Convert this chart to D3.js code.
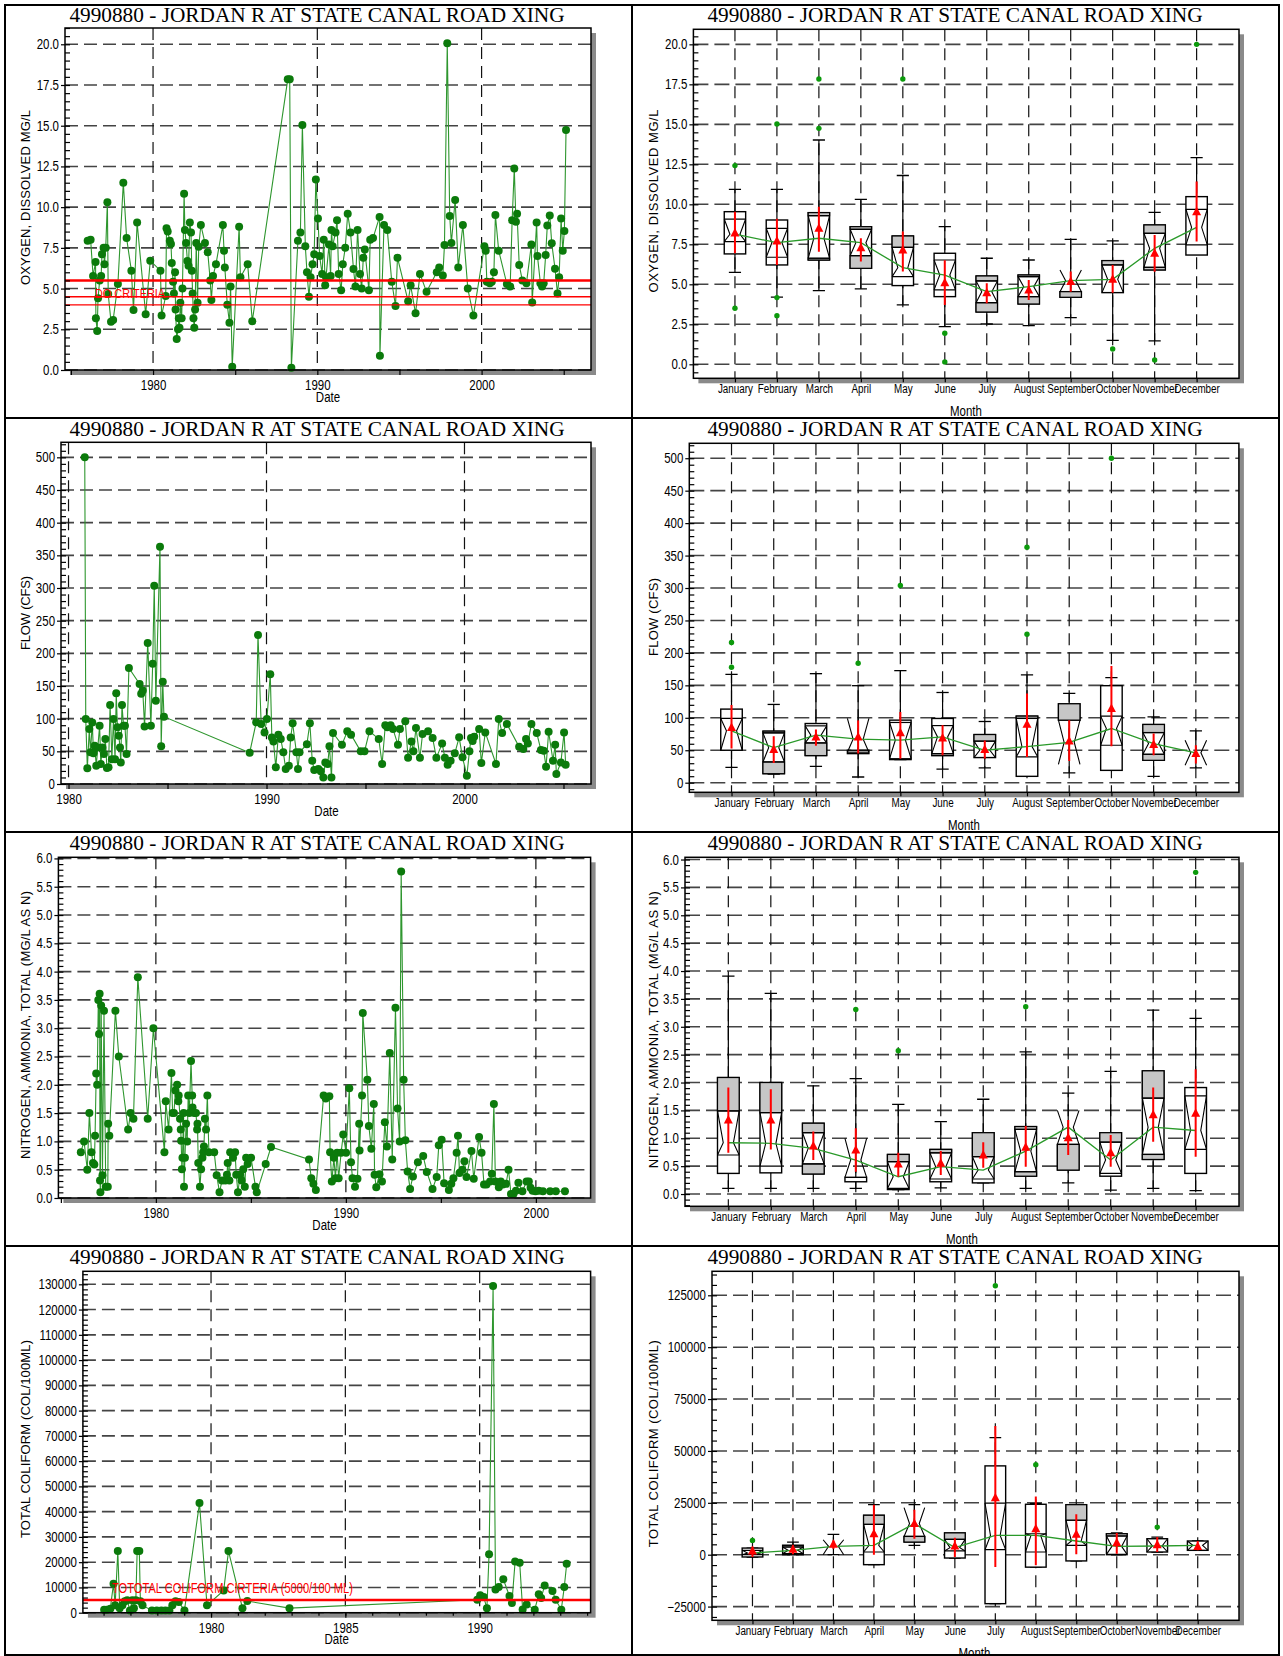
<!DOCTYPE html>
<html><head><meta charset="utf-8">
<script src="https://cdn.jsdelivr.net/npm/d3@7/dist/d3.min.js"></script>
<style>html,body{margin:0;padding:0;background:#fff;}svg{display:block;}</style>
</head><body>
<script>
// ================= DATA =================
const chartTitle = "4990880 - JORDAN R AT STATE CANAL ROAD XING";
const months = ["January","February","March","April","May","June","July","August","September","October","November","December"];

// --- Time series: [decimal year, value] ---
const doSeries = [
[1976.02,7.94],[1976.20,8.0],[1976.35,5.77],[1976.50,6.63],[1976.52,3.17],[1976.60,2.4],[1976.65,4.4],[1976.75,5.5],[1976.84,5.77],[1976.89,7.1],
[1976.99,7.5],[1977.04,6.5],[1977.12,7.5],[1977.22,10.3],[1977.27,4.67],[1977.44,2.97],[1977.57,3.07],[1977.86,5.28],[1978.19,11.5],[1978.39,8.1],
[1978.68,6.1],[1978.81,3.68],[1979.03,9.05],[1979.55,3.42],[1979.83,6.71],[1980.45,6.1],[1980.52,3.34],[1980.77,4.54],[1980.82,8.7],[1980.89,8.5],
[1981.02,7.94],[1981.09,7.74],[1981.14,6.57],[1981.22,5.42],[1981.27,4.7],[1981.34,6.0],[1981.37,3.72],[1981.44,1.9],[1981.52,2.5],[1981.57,3.17],
[1981.61,2.6],[1981.66,4.13],[1981.74,3.17],[1981.79,5.0],[1981.89,10.83],[1981.94,8.6],[1982.01,7.8],[1982.09,6.7],[1982.16,6.4],[1982.24,9.05],
[1982.31,8.45],[1982.36,6.1],[1982.41,4.7],[1982.46,3.17],[1982.51,2.6],[1982.56,3.72],[1982.63,7.8],[1982.71,4.13],[1982.78,7.57],[1982.91,8.9],
[1983.16,7.8],[1983.33,7.23],[1983.48,5.5],[1983.55,4.3],[1983.65,5.77],[1983.83,6.5],[1984.25,8.9],[1984.32,7.33],[1984.37,6.3],[1984.52,4.0],
[1984.65,2.9],[1984.72,5.12],[1984.82,0.2],[1985.24,8.8],[1985.32,5.7],[1985.76,6.5],[1986.04,3.0],[1988.20,17.85],[1988.32,17.85],[1988.42,0.14],
[1988.82,7.94],[1988.97,8.45],[1989.09,15.05],[1989.27,7.6],[1989.37,6.0],[1989.49,4.5],[1989.59,5.7],[1989.71,6.5],[1989.81,7.1],[1989.91,11.7],
[1990.04,9.3],[1990.14,7.0],[1990.29,5.9],[1990.39,8.0],[1990.48,5.2],[1990.53,5.7],[1990.71,7.7],[1990.81,5.77],[1990.86,8.6],[1990.93,7.6],
[1991.11,8.45],[1991.20,9.2],[1991.30,5.9],[1991.45,4.9],[1991.55,6.5],[1991.70,7.5],[1991.85,9.6],[1992.02,8.45],[1992.20,6.2],[1992.32,5.12],
[1992.45,8.6],[1992.60,5.9],[1992.70,5.0],[1992.80,6.9],[1992.89,7.4],[1993.14,4.9],[1993.22,8.0],[1993.39,8.1],[1993.79,9.4],[1993.81,0.88],
[1994.06,8.9],[1994.26,8.6],[1994.53,5.42],[1994.76,3.93],[1994.88,6.9],[1995.53,4.22],[1995.68,5.2],[1995.98,3.48],[1996.25,5.9],[1996.65,4.8],
[1997.27,6.0],[1997.42,6.3],[1997.64,5.8],[1997.74,7.68],[1997.91,20.06],[1998.06,9.46],[1998.16,7.8],[1998.39,10.44],[1998.58,6.3],[1998.86,8.9],
[1999.16,5.0],[1999.50,3.34],[2000.17,7.6],[2000.25,7.33],[2000.32,5.42],[2000.50,5.32],[2000.62,5.42],[2000.75,6.0],[2000.84,9.52],[2001.04,7.33],
[2001.54,5.28],[2001.74,5.12],[2001.86,9.2],[2001.99,12.38],[2002.09,9.1],[2002.16,9.6],[2002.29,6.45],[2002.48,5.5],[2002.73,5.32],[2003.03,7.7],
[2003.08,4.15],[2003.35,9.06],[2003.40,7.0],[2003.58,5.32],[2003.68,5.12],[2003.78,5.32],[2003.90,7.06],[2004.00,8.88],[2004.15,9.48],[2004.27,7.78],
[2004.47,6.22],[2004.62,4.7],[2004.72,5.7],[2004.84,9.3],[2004.94,7.33],[2005.04,8.54],[2005.14,14.74]
];

const flowSeries = [
[1980.82,500],[1980.87,99.5],[1980.95,24],[1981.05,84],[1981.11,48.5],[1981.20,94],[1981.26,47],[1981.32,58.7],[1981.40,28],[1981.48,56],
[1981.57,89],[1981.63,30.6],[1981.71,56],[1981.79,46],[1981.86,69],[1981.94,24.5],[1982.02,25.5],[1982.10,121],[1982.19,38],[1982.27,99.5],
[1982.35,38],[1982.41,139],[1982.47,86.7],[1982.54,74],[1982.60,56],[1982.64,33],[1982.70,121],[1982.78,89],[1982.85,89],[1982.93,46],
[1983.05,177.5],[1983.59,153],[1983.67,138],[1983.75,143],[1983.84,88],[1984.00,216],[1984.16,89],[1984.25,184],[1984.33,303.6],[1984.41,127.5],
[1984.62,363],[1984.68,57.6],[1984.76,156.6],[1984.82,103],[1989.15,48],[1989.48,94.4],[1989.57,228],[1989.73,92],[1989.90,79],[1990.02,99.5],
[1990.19,168],[1990.27,71],[1990.35,65],[1990.47,25.5],[1990.60,75.5],[1990.72,69],[1990.85,48.5],[1990.97,23],[1991.13,28],[1991.22,71],
[1991.32,93],[1991.51,48.5],[1991.59,23],[1991.67,48.5],[1992.04,61],[1992.19,93],[1992.31,35.7],[1992.41,21.4],[1992.62,23],[1992.74,19.4],
[1992.87,10],[1992.97,33],[1993.09,30.6],[1993.18,57.6],[1993.28,10],[1993.36,78],[1993.81,60],[1994.08,80.6],[1994.27,75.5],[1994.76,50],
[1994.95,50],[1995.20,80.6],[1995.67,69],[1995.84,30.6],[1996.00,90],[1996.10,86.7],[1996.27,90],[1996.39,84],[1996.64,60],[1996.74,84],
[1997.01,96],[1997.15,40],[1997.32,65],[1997.42,50],[1997.55,85.7],[1997.75,40],[1997.88,76.5],[1998.16,80.6],[1998.39,70.4],[1998.58,40],
[1998.87,62],[1999.01,40],[1999.15,29.6],[1999.30,35.7],[1999.51,47],[1999.73,71.4],[1999.90,40.8],[2000.12,12.8],[2000.25,50],[2000.33,70.4],
[2000.41,66],[2000.49,72.4],[2000.74,84],[2000.85,32],[2001.05,79],[2001.59,30.6],[2001.73,99.5],[2001.90,78],[2002.14,92],[2002.76,57],
[2002.97,53.6],[2003.11,69],[2003.20,62],[2003.38,92],[2003.65,78],[2003.86,52],[2004.00,51],[2004.12,26.5],[2004.25,80],[2004.47,35.7],
[2004.58,60],[2004.64,15.3],[2004.87,33],[2005.03,79],[2005.11,29.6]
];

const nh3Series = [
[1976.05,0.81],[1976.22,1.0],[1976.39,0.5],[1976.50,1.5],[1976.61,0.81],[1976.69,0.62],[1976.76,0.59],[1976.80,1.1],[1976.86,2.2],[1976.91,2.0],
[1976.97,3.5],[1977.01,2.9],[1977.04,3.61],[1977.06,0.31],[1977.08,0.1],[1977.12,3.4],[1977.19,0.4],[1977.27,3.31],[1977.36,0.2],[1977.47,0.2],
[1977.49,1.31],[1977.55,1.1],[1977.87,3.31],[1978.05,2.5],[1978.54,1.21],[1978.67,1.5],[1978.82,1.4],[1979.05,3.9],[1979.57,1.4],[1979.87,3.0],
[1980.45,0.81],[1980.52,1.71],[1980.67,1.21],[1980.82,2.21],[1980.88,1.5],[1980.95,1.5],[1981.03,1.9],[1981.12,2.0],[1981.18,1.71],[1981.20,1.81],
[1981.27,1.4],[1981.31,1.21],[1981.33,1.01],[1981.37,0.51],[1981.40,0.71],[1981.46,1.5],[1981.48,0.2],[1981.53,0.71],[1981.59,1.31],[1981.65,1.0],
[1981.70,1.81],[1981.76,1.5],[1981.85,2.42],[1981.91,1.81],[1981.93,1.6],[1982.02,1.5],[1982.11,1.5],[1982.17,1.21],[1982.19,1.31],[1982.23,0.62],
[1982.32,0.2],[1982.38,0.51],[1982.45,0.71],[1982.49,0.81],[1982.53,0.91],[1982.58,1.4],[1982.64,1.21],[1982.71,1.81],[1982.79,0.81],[1983.07,0.81],
[1983.20,0.4],[1983.35,0.1],[1983.48,0.31],[1983.65,0.31],[1983.74,0.41],[1983.78,0.62],[1983.87,0.31],[1983.91,0.81],[1984.06,0.71],[1984.17,0.81],
[1984.23,0.41],[1984.32,0.1],[1984.43,0.41],[1984.51,0.31],[1984.60,0.51],[1984.68,0.2],[1984.75,0.71],[1984.83,0.6],[1985.01,0.71],[1985.24,0.2],
[1985.31,0.1],[1985.78,0.6],[1986.06,0.9],[1988.06,0.68],[1988.18,0.35],[1988.29,0.25],[1988.42,0.14],[1988.83,1.81],[1988.94,1.76],[1989.13,1.8],
[1989.17,0.81],[1989.26,0.29],[1989.37,0.71],[1989.45,0.35],[1989.54,0.8],[1989.62,0.35],[1989.75,0.8],[1989.86,1.12],[1990.01,0.8],[1990.18,1.94],
[1990.27,0.63],[1990.35,0.35],[1990.48,0.2],[1990.61,0.34],[1990.70,1.31],[1990.72,0.84],[1990.85,1.81],[1990.89,3.27],[1991.13,2.09],[1991.21,1.27],
[1991.34,0.87],[1991.47,1.66],[1991.51,0.41],[1991.60,0.19],[1991.77,0.42],[1991.90,0.29],[1992.05,1.34],[1992.16,0.91],[1992.31,2.56],[1992.44,0.68],
[1992.61,3.36],[1992.72,1.58],[1992.83,1.0],[1992.91,5.77],[1993.04,2.09],[1993.13,1.02],[1993.25,0.47],[1993.38,0.16],[1993.53,0.38],[1993.79,0.63],
[1994.07,0.74],[1994.26,0.46],[1994.56,0.16],[1994.78,0.37],[1994.89,0.93],[1995.04,1.03],[1995.17,0.26],[1995.42,0.14],[1995.55,0.25],[1995.66,0.35],
[1995.83,0.8],[1995.90,1.1],[1995.98,0.44],[1996.13,0.5],[1996.24,0.65],[1996.35,0.37],[1996.61,0.83],[1996.73,0.34],[1997.01,1.08],[1997.14,0.8],
[1997.27,0.24],[1997.40,0.24],[1997.59,0.29],[1997.68,0.43],[1997.79,1.66],[1997.87,0.29],[1998.05,0.19],[1998.15,0.29],[1998.26,0.24],[1998.43,0.25],
[1998.56,0.5],[1998.69,0.07],[1998.82,0.07],[1998.95,0.13],[1999.08,0.27],[1999.29,0.12],[1999.51,0.29],[1999.63,0.29],[1999.72,0.18],[1999.83,0.13],
[1999.98,0.12],[2000.15,0.13],[2000.37,0.12],[2000.75,0.12],[2001.05,0.12],[2001.53,0.12]
];

const tcSeries = [
[1976.02,1200],[1976.12,1200],[1976.25,1600],[1976.37,11500],[1976.43,2900],[1976.53,24400],[1976.60,1800],[1976.70,2900],[1976.79,4500],[1976.88,4900],
[1976.98,900],[1977.07,4900],[1977.13,1800],[1977.20,4900],[1977.25,24400],[1977.33,24400],[1977.37,4500],[1977.45,2900],[1977.80,900],[1977.98,900],
[1978.15,900],[1978.30,900],[1978.45,900],[1978.56,2900],[1978.68,4500],[1978.80,4200],[1979.01,900],[1979.57,43400],[1979.85,2900],[1980.47,8800],
[1980.65,24400],[1981.17,1800],[1981.35,4600],[1982.92,1800],[1989.91,5100],[1990.02,6900],[1990.15,6200],[1990.27,1800],[1990.35,23100],[1990.50,129300],
[1990.59,9200],[1990.71,10200],[1990.88,13200],[1991.11,6600],[1991.20,3800],[1991.32,20300],[1991.49,19800],[1991.60,1300],[1991.75,3200],[1992.05,1200],
[1992.20,7300],[1992.29,5800],[1992.42,10800],[1992.71,8600],[1992.83,5100],[1993.04,1200],[1993.15,10200],[1993.24,19400]
];

// criteria
const doCriteria = [5.5, 4.5, 4.0];
const tcCriteria = [5000];

// --- Monthly box statistics (Jan..Dec) ---
// Dissolved oxygen
const doWhiskHi = [10.94,10.94,14.02,10.31,11.8,8.6,6.63,6.52,7.81,7.71,9.5,12.92];
const doWhiskLo = [5.75,4.2,4.6,4.71,3.71,2.35,2.52,2.42,2.92,1.5,1.46,6.88];
const doQ3 = [9.54,9.02,9.48,8.6,8.02,6.94,5.52,5.58,4.54,6.48,8.71,10.48];
const doNotchHi = [9.08,8.5,9.29,8.44,7.31,6.52,5.21,5.48,5.9,6.21,8.19,9.69];
const doMedian = [8.13,7.6,7.88,7.6,6.04,5.58,4.54,4.85,5.23,5.31,7.25,8.56];
const doNotchLo = [7.67,6.69,6.63,6.79,5.48,4.65,3.85,4.23,4.54,4.48,6.06,7.46];
const doQ1 = [6.9,6.21,6.52,6.0,4.92,4.23,3.27,3.77,4.19,4.48,5.9,6.83];
const doMean = [8.2,7.7,8.5,7.29,7.15,5.1,4.48,4.65,5.17,5.31,6.94,9.54];
const doMeanHi = [9.54,9.1,9.85,7.88,8.3,6.5,5.06,5.27,5.8,6.2,8.08,11.42];
const doMeanLo = [6.94,6.2,7.04,6.42,5.8,3.7,3.81,4.02,4.54,4.48,5.79,7.67];
const doShadeTop = [0,0,1,1,1,0,1,1,0,1,1,0];
const doShadeBot = [0,0,1,1,0,0,1,1,1,0,1,0];
const doOutliers = [[12.42,3.5],[15.02,4.17,3.04],[17.83,14.75],[],[17.83],[1.94,0.15],[],[],[],[0.96],[0.27],[20.0]];

// Flow
const flowWhiskHi = [167,120.6,168,149.5,172.7,139,94.3,166,137.6,162,101.5,80];
const flowWhiskLo = [23.7,13.4,25.3,8.8,35.6,21,22.7,22.7,15,39.7,9.8,22.7];
const flowQ3 = [113.4,79.4,91.2,50,96.4,99,74.2,102.6,121.6,149.5,89.7,46];
const flowNotchHi = [99,76.8,87.6,99,92.8,88,64,99,96.4,102.6,77.3,65.5];
const flowMedian = [80,54,73.2,67,65.5,70.6,50,55.7,62,83.5,60.3,46];
const flowNotchLo = [50,32,61.3,47,37,44.8,38.7,39.7,28.4,57.7,43.8,26.8];
const flowQ1 = [50,13.9,41.8,44.8,35.6,41.8,38.7,9.8,96.4,19,34.5,46];
const flowMean = [85,51,70.6,70.6,76.8,69,51,90,64.4,114.4,59,44.8];
const flowMeanHi = [119.6,71.6,82,96,109,88.7,65,137.6,96.4,180,75.8,57.7];
const flowMeanLo = [52.6,30.4,57,45,37,42.3,37,39.7,33.5,56,42.3,29.4];
const flowShadeTop = [0,1,0,0,0,0,1,1,1,0,1,0];
const flowShadeBot = [0,1,1,0,0,1,0,0,0,0,1,0];
const flowOutliers = [[216,177.8],[],[],[184],[304],[],[],[363,228.7],[],[500],[],[]];

// Ammonia nitrogen
const nh3WhiskHi = [3.91,3.6,1.94,2.07,1.61,1.3,1.7,2.55,1.81,2.2,3.3,3.15];
const nh3WhiskLo = [0.1,0.1,0.1,0.1,0.08,0.11,0.2,0.1,0.2,0.07,0.1,0.06];
const nh3Q3 = [2.09,2.0,1.27,0.3,0.71,0.8,1.1,1.21,0.89,1.1,2.21,1.91];
const nh3NotchHi = [1.49,1.46,1.1,1.0,0.58,0.74,0.67,1.16,1.5,0.93,1.72,1.76];
const nh3Median = [0.92,0.91,0.82,0.61,0.31,0.49,0.43,0.77,1.2,0.61,1.2,1.14];
const nh3NotchLo = [0.7,0.5,0.54,0.3,0.1,0.27,0.27,0.4,0.89,0.37,0.71,0.8];
const nh3Q1 = [0.37,0.38,0.36,0.22,0.08,0.22,0.2,0.32,0.43,0.32,0.62,0.37];
const nh3Mean = [1.33,1.33,0.86,0.79,0.54,0.55,0.7,0.84,1.01,0.74,1.42,1.45];
const nh3MeanHi = [1.91,1.88,1.12,1.18,0.74,0.77,0.93,1.22,1.33,1.06,1.91,2.24];
const nh3MeanLo = [0.74,0.8,0.61,0.4,0.31,0.34,0.47,0.49,0.7,0.49,0.94,0.67];
const nh3ShadeTop = [1,1,1,0,1,1,1,1,0,1,1,0];
const nh3ShadeBot = [0,0,1,0,0,0,0,1,1,0,1,0];
const nh3Outliers = [[],[],[],[3.31],[2.57],[],[],[3.36],[],[],[],[5.77]];

// Total coliform
const tcWhiskHi = [3200,6100,9800,24100,24100,8200,56400,24600,24100,10500,8500,6600];
const tcWhiskLo = [-1100,0,0,-4800,4500,-1600,-23600,-6000,-3000,0,1300,2100];
const tcQ3 = [3200,4500,7200,19000,8800,10500,42800,24300,24100,10100,7700,6600];
const tcNotchHi = [2100,3700,7200,14600,22700,7400,24900,10100,16600,9000,7700,6600];
const tcMedian = [800,2100,4000,4500,15000,3400,9300,9300,6600,4000,4200,4500];
const tcNotchLo = [0,500,0,1300,8800,1800,2400,1300,4500,160,1300,2100];
const tcQ1 = [-1100,0,7200,-4800,6100,-1600,-23600,-6000,-3000,0,1300,2100];
const tcMean = [1800,2600,5000,10100,15000,4200,27500,12500,9800,5800,4800,4000];
const tcMeanHi = [4000,4500,6900,24100,21700,8200,62000,28100,19500,10500,8500,6600];
const tcMeanLo = [-1100,160,2900,0,7700,-1100,-5900,-5100,160,500,1300,2100];
const tcShadeTop = [0,1,0,1,0,1,0,0,1,1,0,0];
const tcShadeBot = [0,0,0,0,1,0,0,0,0,0,0,0];
const tcOutliers = [[6900],[],[],[],[],[],[129600],[43400],[],[],[13300],[]];

// tick values
const doTicks = d3.range(0, 20.01, 2.5);
const flowTicks = d3.range(0, 501, 50);
const nh3Ticks = d3.range(0, 6.01, 0.5);
const tcTsTicks = d3.range(0, 130001, 10000);
const tcBoxTicks = d3.range(-25000, 125001, 25000);

// ================= DRAWING =================
const SERIF = "'Liberation Serif','Times New Roman',serif";
const SANS = "'Liberation Sans',Arial,sans-serif";
const NARROW = "'Liberation Sans',Arial,sans-serif";   // condensed via textLength
const CONDENSE = 0.82;

const svg = d3.select("body").append("svg").attr("width",1283).attr("height",1656);
const defs = svg.append("defs");
let clipN = 0;
function clip(x,y,w,h){
  const id = "clip"+(clipN++);
  defs.append("clipPath").attr("id",id).append("rect").attr("x",x).attr("y",y).attr("width",w).attr("height",h);
  return `url(#${id})`;
}
function condense(sel){
  sel.each(function(){
    const w = this.getComputedTextLength();
    if (w > 0) d3.select(this).attr("textLength", w*CONDENSE).attr("lengthAdjust","spacingAndGlyphs");
  });
}

function panelBase(ox, oy, pw, titleX, fx, fy){
  const g = svg.append("g").attr("clip-path", clip(ox, oy+4, pw, 414));
  g.append("text").attr("x",titleX).attr("y",oy+22).attr("text-anchor","middle")
    .attr("font-family",SERIF).attr("font-size",21.3).attr("fill","#000").text(chartTitle);
  g.append("rect").attr("x",fx[0]+5).attr("y",oy+fy[0]+5).attr("width",fx[1]-fx[0]).attr("height",fy[1]-fy[0]).attr("fill","#8a8a8a");
  g.append("rect").attr("x",fx[0]).attr("y",oy+fy[0]).attr("width",fx[1]-fx[0]).attr("height",fy[1]-fy[0]).attr("fill","#fff");
  return g;
}

function styleAxis(sel, size){
  sel.attr("font-family",NARROW).attr("font-size",size);
  sel.select(".domain").remove();
  sel.selectAll("line").attr("stroke","#000").attr("stroke-width",1.2);
  sel.selectAll("text").attr("fill","#000").call(condense);
}

function gridLines(g, x, y, c, xGridVals, hDash, vDash){
  const [fx0,fx1] = c.fx; const fy0 = c.oy+c.fy[0], fy1 = c.oy+c.fy[1];
  g.append("g").selectAll("line").data(c.yTicks).join("line")
    .attr("x1",fx0).attr("x2",fx1).attr("y1",d=>y(d)).attr("y2",d=>y(d))
    .attr("stroke","#444").attr("stroke-width",1.6).attr("stroke-dasharray",hDash);
  g.append("g").selectAll("line").data(xGridVals).join("line")
    .attr("x1",d=>x(d)).attr("x2",d=>x(d)).attr("y1",fy0).attr("y2",fy1)
    .attr("stroke","#111").attr("stroke-width",1.2).attr("stroke-dasharray",vDash);
}

function finishFrame(g, c, x, y, yFmt){
  const [fx0,fx1] = c.fx; const fy0 = c.oy+c.fy[0], fy1 = c.oy+c.fy[1];
  g.append("rect").attr("x",fx0).attr("y",fy0).attr("width",fx1-fx0).attr("height",fy1-fy0)
    .attr("fill","none").attr("stroke","#000").attr("stroke-width",1.5);
  g.append("g").attr("transform",`translate(${fx0},0)`)
    .call(d3.axisLeft(y).tickValues(c.yTicks).tickFormat(yFmt).tickSize(4).tickPadding(2))
    .call(s=>styleAxis(s,14));
  g.append("g").attr("transform",`translate(${fx0},0)`)
    .call(d3.axisRight(y).tickValues(c.yMinor).tickFormat("").tickSize(5))
    .call(s=>styleAxis(s,14));
  g.append("text").attr("transform",`translate(${c.yLabelX},${c.oy+c.yLabelCY}) rotate(-90)`)
    .attr("text-anchor","middle").attr("font-family",SANS).attr("font-size",13)
    .attr("textLength",c.yLabelLen).attr("lengthAdjust","spacing").attr("fill","#000").text(c.yLabel);
}

// ---------- time series ----------
function drawTS(c){
  const g = panelBase(c.ox, c.oy, 632, 317, c.fx, c.fy);
  const x = d3.scaleLinear().domain(c.xd).range(c.fx);
  const y = d3.scaleLinear().domain(c.yd).range([c.oy+c.fy[1], c.oy+c.fy[0]]);
  gridLines(g, x, y, c, c.xGrid, "13,6", "12,7");
  const plot = g.append("g").attr("clip-path", clip(c.fx[0], c.oy+c.fy[0]-6, c.fx[1]-c.fx[0]+6, c.fy[1]-c.fy[0]+8));
  plot.append("path").datum(c.series)
    .attr("d", d3.line().x(d=>x(d[0])).y(d=>y(d[1])))
    .attr("fill","none").attr("stroke","#2e962e").attr("stroke-width",1.1);
  plot.append("g").selectAll("circle").data(c.series).join("circle")
    .attr("cx",d=>x(d[0])).attr("cy",d=>y(d[1])).attr("r",4).attr("fill","#0b7a0b");
  if (c.extra) c.extra(g, x, y);
  finishFrame(g, c, x, y, c.yFmt);
  if (c.xMinor){
    g.append("g").attr("transform",`translate(0,${c.oy+c.fy[1]})`)
      .call(d3.axisBottom(x).tickValues(c.xMinor).tickFormat("").tickSize(3))
      .call(s=>styleAxis(s,14));
  }
  g.append("g").attr("transform",`translate(0,${c.oy+c.fy[1]})`)
    .call(d3.axisBottom(x).tickValues(c.xTicks).tickFormat(d=>c.xLabels.includes(d)?String(d):"").tickSize(5).tickPadding(5))
    .call(s=>styleAxis(s,14));
  g.append("text").attr("x",c.dateX).attr("y",c.oy+402).attr("text-anchor","middle")
    .attr("font-family",NARROW).attr("font-size",14).attr("fill","#000").text("Date").call(condense);
}

// ---------- monthly box plots ----------
function drawBox(c){
  const g = panelBase(c.ox, c.oy, 651, 955, c.fx, c.fy);
  const x = d3.scaleLinear().domain(c.xd).range(c.fx);
  const y = d3.scaleLinear().domain(c.yd).range([c.oy+c.fy[1], c.oy+c.fy[0]]);
  const idx = d3.range(12);
  gridLines(g, x, y, c, idx, "15,6", "12,7");
  const s = c.st;
  const step = x(1)-x(0), hw = 0.255*step, ww = 0.12*step, cw = 0.145*step;
  const plot = g.append("g").attr("clip-path", clip(c.fx[0], c.oy+c.fy[0], c.fx[1]-c.fx[0], c.fy[1]-c.fy[0]));
  idx.forEach(i=>{
    const cx = x(i);
    plot.append("line").attr("x1",cx).attr("x2",cx).attr("y1",y(s.whi[i])).attr("y2",y(s.wlo[i]))
      .attr("stroke","#000").attr("stroke-width",1.2);
    [s.whi[i], s.wlo[i]].forEach(v=>{
      plot.append("line").attr("x1",cx-cw).attr("x2",cx+cw).attr("y1",y(v)).attr("y2",y(v))
        .attr("stroke","#000").attr("stroke-width",1.3);
    });
    const top = y(s.q3[i]), bot = y(s.q1[i]);
    plot.append("rect").attr("x",cx-hw).attr("y",top).attr("width",2*hw).attr("height",Math.max(0,bot-top))
      .attr("fill","#fff").attr("stroke","#000").attr("stroke-width",1.4);
    if (s.shTop[i] && s.nhi[i] < s.q3[i]){
      const lo = Math.max(s.nhi[i], s.q1[i]);
      plot.append("rect").attr("x",cx-hw).attr("y",y(s.q3[i])).attr("width",2*hw).attr("height",y(lo)-y(s.q3[i]))
        .attr("fill","#c6c6c6").attr("stroke","#000").attr("stroke-width",1.2);
    }
    if (s.shBot[i] && s.nlo[i] > s.q1[i]){
      const hi = Math.min(s.nlo[i], s.q3[i]);
      plot.append("rect").attr("x",cx-hw).attr("y",y(hi)).attr("width",2*hw).attr("height",y(s.q1[i])-y(hi))
        .attr("fill","#c6c6c6").attr("stroke","#000").attr("stroke-width",1.2);
    }
    [s.nhi[i], s.nlo[i]].forEach(v=>{
      if (v < s.q3[i] && v > s.q1[i]){
        plot.append("line").attr("x1",cx-hw).attr("x2",cx+hw).attr("y1",y(v)).attr("y2",y(v))
          .attr("stroke","#000").attr("stroke-width",1.2);
      }
    });
    const yh = y(s.nhi[i]), ym = y(s.med[i]), yl = y(s.nlo[i]);
    plot.append("path")
      .attr("d",`M${cx-hw},${yh}L${cx-ww},${ym}L${cx-hw},${yl}M${cx+hw},${yh}L${cx+ww},${ym}L${cx+hw},${yl}`)
      .attr("fill","none").attr("stroke","#000").attr("stroke-width",1.1);
  });
  plot.append("path").datum(idx)
    .attr("d", d3.line().x(i=>x(i)).y(i=>y(s.med[i])))
    .attr("fill","none").attr("stroke","#2a9a2a").attr("stroke-width",1.3);
  plot.append("g").selectAll("line").data(idx).join("line")
    .attr("x1",i=>x(i)).attr("x2",i=>x(i)).attr("y1",i=>y(s.mhi[i])).attr("y2",i=>y(s.mlo[i]))
    .attr("stroke","#ff0000").attr("stroke-width",2);
  plot.append("g").selectAll("path").data(idx).join("path")
    .attr("d",i=>{const cx=x(i), cy=y(s.mean[i]); return `M${cx},${cy-5}L${cx-4.5},${cy+3.5}L${cx+4.5},${cy+3.5}Z`;})
    .attr("fill","#ff0000");
  const outs = [];
  idx.forEach(i=>s.out[i].forEach(v=>outs.push([i,v])));
  plot.append("g").selectAll("circle").data(outs).join("circle")
    .attr("cx",d=>x(d[0])).attr("cy",d=>y(d[1])).attr("r",2.7).attr("fill","#0c9a0c");
  finishFrame(g, c, x, y, c.yFmt);
  g.append("g").attr("transform",`translate(0,${c.oy+c.fy[1]})`)
    .call(d3.axisBottom(x).tickValues(idx).tickFormat(i=>months[i]).tickSize(4).tickPadding(2))
    .call(sel=>styleAxis(sel,12));
  g.append("text").attr("x",c.monthX).attr("y",c.oy+416).attr("text-anchor","middle")
    .attr("font-family",NARROW).attr("font-size",14).attr("fill","#000").text("Month").call(condense);
}

const f1 = d3.format(".1f"), fd = d3.format("d");

// Panel 1: DO time series
drawTS({ox:0, oy:0, fx:[65,591], fy:[28,370], xd:[1974.64,2006.66], yd:[0,21],
  series:doSeries, yTicks:doTicks, yMinor:d3.range(0,21.01,0.5), yFmt:f1,
  xTicks:d3.range(1975,2006,5), xLabels:[1980,1990,2000], xGrid:[1980,1990,2000],
  yLabel:"OXYGEN, DISSOLVED MG/L", yLabelX:29.5, yLabelCY:197.5, yLabelLen:175, dateX:328,
  extra:(g,x,y)=>{
    g.append("g").selectAll("line").data(doCriteria).join("line")
      .attr("x1",65).attr("x2",591).attr("y1",d=>y(d)).attr("y2",d=>y(d))
      .attr("stroke","#ff0000").attr("stroke-width",(d,i)=>i===0?2.4:1.4);
    g.append("text").attr("x",95).attr("y",y(4.45)).attr("font-family",NARROW).attr("font-size",13)
      .attr("fill","#ff0000").attr("textLength",70).attr("lengthAdjust","spacingAndGlyphs").text("DO CRITERIA");
  }});

// Panel 2: DO box
drawBox({ox:632, oy:0, fx:[693.4,1239], fy:[29.3,378.3], xd:[-0.99,12.01], yd:[-0.875,20.94],
  yTicks:doTicks, yMinor:d3.range(-0.5,20.91,0.5), yFmt:f1,
  yLabel:"OXYGEN, DISSOLVED MG/L", yLabelX:657.5, yLabelCY:201, yLabelLen:183, monthX:966,
  st:{whi:doWhiskHi, wlo:doWhiskLo, q3:doQ3, nhi:doNotchHi, med:doMedian, nlo:doNotchLo, q1:doQ1,
      mean:doMean, mhi:doMeanHi, mlo:doMeanLo, shTop:doShadeTop, shBot:doShadeBot, out:doOutliers}});

// Panel 3: Flow time series
drawTS({ox:0, oy:414, fx:[61,591], fy:[28.3,370], xd:[1979.62,2006.39], yd:[0,523],
  series:flowSeries, yTicks:flowTicks, yMinor:d3.range(0,521,10), yFmt:fd,
  xTicks:d3.range(1980,2006,5), xLabels:[1980,1990,2000], xGrid:[1980,1990,2000],
  yLabel:"FLOW (CFS)", yLabelX:29.5, yLabelCY:199, yLabelLen:74, dateX:326.5});

// Panel 4: Flow box
drawBox({ox:632, oy:414, fx:[689.3,1238.9], fy:[29.3,378.3], xd:[-1.0,12.02], yd:[-14.8,523],
  yTicks:flowTicks, yMinor:d3.range(-10,521,10), yFmt:fd,
  yLabel:"FLOW (CFS)", yLabelX:657.5, yLabelCY:203, yLabelLen:78, monthX:964,
  st:{whi:flowWhiskHi, wlo:flowWhiskLo, q3:flowQ3, nhi:flowNotchHi, med:flowMedian, nlo:flowNotchLo, q1:flowQ1,
      mean:flowMean, mhi:flowMeanHi, mlo:flowMeanLo, shTop:flowShadeTop, shBot:flowShadeBot, out:flowOutliers}});

// Panel 5: NH3 time series
drawTS({ox:0, oy:828, fx:[58.4,590.6], fy:[29.3,370], xd:[1974.87,2002.88], yd:[0,6.02],
  series:nh3Series, yTicks:nh3Ticks, yMinor:d3.range(0,6.01,0.1), yFmt:f1,
  xTicks:d3.range(1975,2003,5), xLabels:[1980,1990,2000], xGrid:[1980,1990,2000],
  yLabel:"NITROGEN, AMMONIA, TOTAL (MG/L AS N)", yLabelX:29.5, yLabelCY:197, yLabelLen:268, dateX:324.5});

// Panel 6: NH3 box
drawBox({ox:632, oy:828, fx:[685,1239], fy:[29.3,378.3], xd:[-1.02,12.02], yd:[-0.22,6.04],
  yTicks:nh3Ticks, yMinor:d3.range(-0.2,6.01,0.1), yFmt:f1,
  yLabel:"NITROGEN, AMMONIA, TOTAL (MG/L AS N)", yLabelX:657.5, yLabelCY:201.7, yLabelLen:277, monthX:962,
  st:{whi:nh3WhiskHi, wlo:nh3WhiskLo, q3:nh3Q3, nhi:nh3NotchHi, med:nh3Median, nlo:nh3NotchLo, q1:nh3Q1,
      mean:nh3Mean, mhi:nh3MeanHi, mlo:nh3MeanLo, shTop:nh3ShadeTop, shBot:nh3ShadeBot, out:nh3Outliers}});

// Panel 7: Coliform time series
drawTS({ox:0, oy:1242, fx:[82.9,590.6], fy:[29.3,370.7], xd:[1975.23,1994.13], yd:[0,135150],
  series:tcSeries, yTicks:tcTsTicks, yMinor:d3.range(0,134001,2000), yFmt:fd,
  xTicks:[1980,1985,1990], xMinor:d3.range(1976,1995,1), xLabels:[1980,1985,1990], xGrid:[1980,1985,1990],
  yLabel:"TOTAL COLIFORM (COL/100ML)", yLabelX:29.5, yLabelCY:197, yLabelLen:198, dateX:336.7,
  extra:(g,x,y)=>{
    g.append("g").selectAll("line").data(tcCriteria).join("line")
      .attr("x1",82.9).attr("x2",590.6).attr("y1",d=>y(d)).attr("y2",d=>y(d))
      .attr("stroke","#ff0000").attr("stroke-width",2.4);
    g.append("text").attr("x",112).attr("y",1242+350.7).attr("font-family",NARROW).attr("font-size",14)
      .attr("fill","#ff0000").attr("textLength",241).attr("lengthAdjust","spacingAndGlyphs")
      .text("TOTOTAL COLIFORM CIRTERIA (5000/100 ML)");
  }});

// Panel 8: Coliform box
drawBox({ox:632, oy:1242, fx:[712,1239], fy:[29.3,378.3], xd:[-1.0,12.02], yd:[-31612,136565],
  yTicks:tcBoxTicks, yMinor:d3.range(-30000,135001,5000), yFmt:fd,
  yLabel:"TOTAL COLIFORM (COL/100ML)", yLabelX:657.5, yLabelCY:201.7, yLabelLen:207, monthX:974.5,
  st:{whi:tcWhiskHi, wlo:tcWhiskLo, q3:tcQ3, nhi:tcNotchHi, med:tcMedian, nlo:tcNotchLo, q1:tcQ1,
      mean:tcMean, mhi:tcMeanHi, mlo:tcMeanLo, shTop:tcShadeTop, shBot:tcShadeBot, out:tcOutliers}});

// Borders between panels
const borders = svg.append("g").attr("stroke","#000").attr("stroke-width",2).attr("fill","none");
borders.append("rect").attr("x",5).attr("y",5).attr("width",1274).attr("height",1650);
borders.append("line").attr("x1",632).attr("x2",632).attr("y1",5).attr("y2",1655);
[418,832,1246].forEach(v=>borders.append("line").attr("x1",5).attr("x2",1279).attr("y1",v).attr("y2",v));
</script>
</body></html>
